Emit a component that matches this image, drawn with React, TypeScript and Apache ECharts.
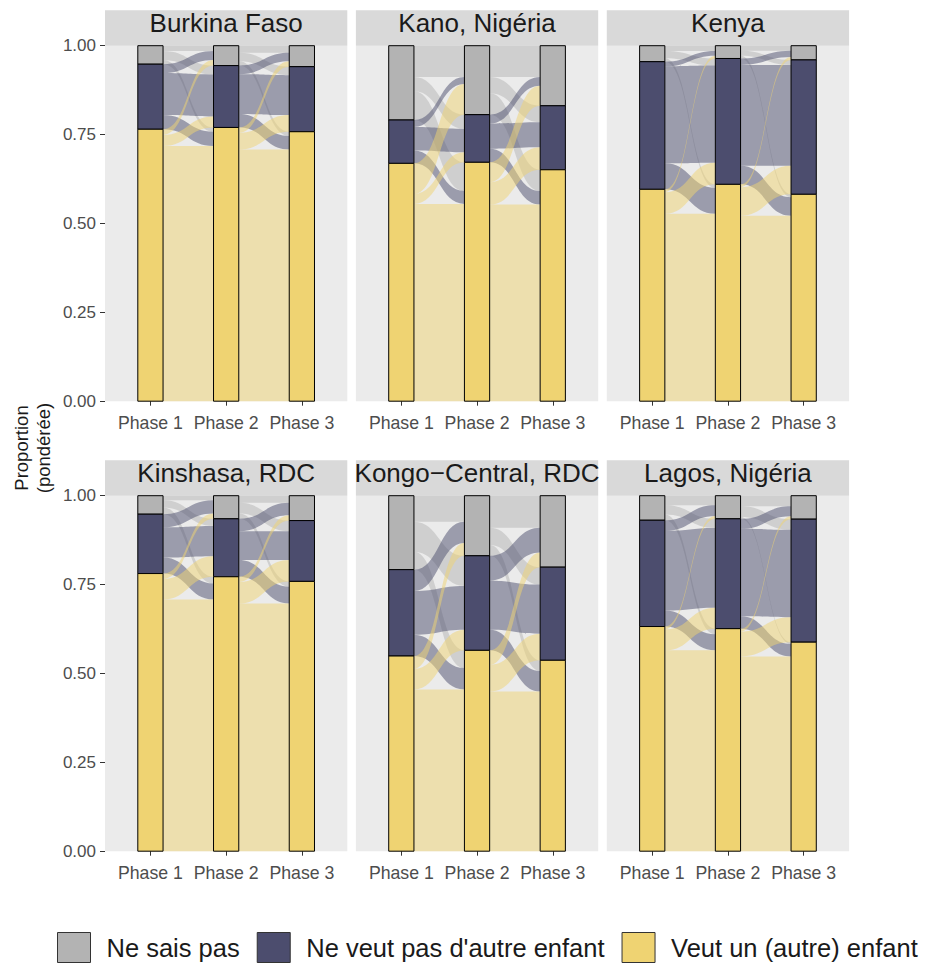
import React, { useEffect, useRef } from 'react';
import * as echarts from 'echarts';

// ---------- data ----------
const CATEGORIES = ['Ne sais pas', "Ne veut pas d'autre enfant", 'Veut un (autre) enfant'];
const PHASES = ['Phase 1', 'Phase 2', 'Phase 3'];
const PHASE_POS = [1, 2, 3];
const REGIONS = ['Burkina Faso', 'Kano, Nigéria', 'Kenya', 'Kinshasa, RDC', 'Kongo\u2212Central, RDC', 'Lagos, Nigéria'];
const Y_TICKS = [0, 0.25, 0.5, 0.75, 1];

// weighted shares moving from a category at one phase (rows) to a category at the next phase (columns)
// order of rows / columns: Ne sais pas, Ne veut pas d'autre enfant, Veut un (autre) enfant
const BURKINA_1_2 = [[0.015, 0.025, 0.012], [0.025, 0.118, 0.040], [0.016, 0.031, 0.718]];
const BURKINA_2_3 = [[0.020, 0.024, 0.012], [0.024, 0.112, 0.038], [0.015, 0.047, 0.708]];
const KANO_1_2 = [[0.088, 0.040, 0.081], [0.020, 0.066, 0.036], [0.086, 0.028, 0.555]];
const KANO_2_3 = [[0.088, 0.046, 0.060], [0.025, 0.071, 0.038], [0.056, 0.063, 0.553]];
const KENYA_1_2 = [[0.015, 0.020, 0.010], [0.013, 0.273, 0.073], [0.008, 0.061, 0.527]];
const KENYA_2_3 = [[0.014, 0.014, 0.008], [0.018, 0.284, 0.052], [0.008, 0.080, 0.522]];
const KINSHASA_1_2 = [[0.013, 0.020, 0.019], [0.037, 0.085, 0.045], [0.015, 0.058, 0.708]];
const KINSHASA_2_3 = [[0.020, 0.030, 0.015], [0.035, 0.081, 0.047], [0.015, 0.060, 0.697]];
const KONGO_1_2 = [[0.073, 0.085, 0.050], [0.060, 0.123, 0.060], [0.036, 0.058, 0.455]];
const KONGO_2_3 = [[0.090, 0.049, 0.030], [0.070, 0.138, 0.058], [0.041, 0.075, 0.449]];
const LAGOS_1_2 = [[0.027, 0.026, 0.016], [0.030, 0.224, 0.045], [0.008, 0.059, 0.565]];
const LAGOS_2_3 = [[0.030, 0.030, 0.005], [0.028, 0.246, 0.035], [0.008, 0.070, 0.548]];

const TRANSITIONS = [
  [BURKINA_1_2, BURKINA_2_3],
  [KANO_1_2, KANO_2_3],
  [KENYA_1_2, KENYA_2_3],
  [KINSHASA_1_2, KINSHASA_2_3],
  [KONGO_1_2, KONGO_2_3],
  [LAGOS_1_2, LAGOS_2_3],
];

// ---------- styles / layout ----------
const COLORS = ['#B3B3B3', '#4C4D6E', '#EFD372'];
const FLOW_COLORS = ['rgba(179,179,179,0.5)', 'rgba(76,77,110,0.5)', 'rgba(239,211,114,0.5)'];
const FONT = "'Liberation Sans', Arial, Helvetica, sans-serif";
const PANEL_LEFT = [105, 355.9, 606.8];
const PANEL_W = 242.3;
const PANEL_TOP = [45.7, 495.7];
const PANEL_H = 355.5;
const STRIP_H = 35.5;
const STRATUM_W = 1 / 3;

const rowSums = (m: number[][]) => m.map((r) => r.reduce((a, b) => a + b, 0));
const colSums = (m: number[][]) => m[0].map((_, j) => m.reduce((a, r) => a + r[j], 0));

function tops(shares: number[]) {
  const t: number[] = [];
  let acc = 1;
  shares.forEach((s) => {
    t.push(acc);
    acc -= s;
  });
  return t;
}

function buildPanel(trans: number[][][]) {
  const marg = [rowSums(trans[0]), colSums(trans[0]), colSums(trans[1])];
  const strata: number[][][] = [[], [], []];
  marg.forEach((shares, a) => {
    const t = tops(shares);
    shares.forEach((s, k) => strata[k].push([PHASE_POS[a], t[k] - s, t[k], k]));
  });
  const flows: number[][] = [];
  trans.forEach((m, a) => {
    const left = tops(marg[a]);
    const right = tops(marg[a + 1]);
    for (let i = 0; i < 3; i++) {
      for (let j = 0; j < 3; j++) {
        const v = m[i][j];
        let lt = left[i];
        for (let q = 0; q < j; q++) lt -= m[i][q];
        let rt = right[j];
        for (let q = 0; q < i; q++) rt -= m[q][j];
        flows.push([PHASE_POS[a] + STRATUM_W / 2, lt, lt - v, PHASE_POS[a + 1] - STRATUM_W / 2, rt, rt - v, i]);
      }
    }
  });
  return { strata, flows };
}

function renderFlow(_params: any, api: any) {
  const x0 = api.value(0), t0 = api.value(1), b0 = api.value(2);
  const x1 = api.value(3), t1 = api.value(4), b1 = api.value(5);
  const k = api.value(6);
  const a = api.coord([x0, t0]);
  const b = api.coord([x1, t1]);
  const c = api.coord([x1, b1]);
  const d = api.coord([x0, b0]);
  const h = (b[0] - a[0]) * 0.5;
  const pathData =
    `M${a[0]},${a[1]} C${a[0] + h},${a[1]} ${b[0] - h},${b[1]} ${b[0]},${b[1]} ` +
    `L${c[0]},${c[1]} C${c[0] - h},${c[1]} ${d[0] + h},${d[1]} ${d[0]},${d[1]} Z`;
  return { type: 'path', shape: { pathData }, style: { fill: FLOW_COLORS[k] } };
}

function renderStratum(_params: any, api: any) {
  const x = api.value(0), bot = api.value(1), top = api.value(2), k = api.value(3);
  const p1 = api.coord([x - STRATUM_W / 2, top]);
  const p2 = api.coord([x + STRATUM_W / 2, bot]);
  return {
    type: 'rect',
    shape: { x: p1[0], y: p1[1], width: p2[0] - p1[0], height: p2[1] - p1[1] },
    style: { fill: COLORS[k], stroke: '#000', lineWidth: 1 },
  };
}

function buildOption() {
  const grid: any[] = [];
  const xAxis: any[] = [];
  const yAxis: any[] = [];
  const series: any[] = [];
  const graphic: any[] = [];

  REGIONS.forEach((region, p) => {
    const row = Math.floor(p / 3);
    const col = p % 3;
    grid.push({
      left: PANEL_LEFT[col], top: PANEL_TOP[row], width: PANEL_W, height: PANEL_H,
      show: true, backgroundColor: '#EBEBEB', borderWidth: 0,
    });
    xAxis.push({
      gridIndex: p, type: 'value', min: 0.4, max: 3.6,
      axisLine: { show: false }, splitLine: { show: false },
      axisTick: { show: true, customValues: PHASE_POS, length: 4.5, lineStyle: { color: '#333333', width: 1 } },
      axisLabel: {
        customValues: PHASE_POS,
        formatter: (v: number) => PHASES[Math.round(v) - 1] ?? '',
        color: '#4D4D4D', fontSize: 17.7, margin: 12.5, fontFamily: FONT,
      },
    });
    yAxis.push({
      gridIndex: p, type: 'value', min: 0, max: 1,
      axisLine: { show: false }, splitLine: { show: false },
      axisTick: { show: col === 0, customValues: Y_TICKS, length: 5, lineStyle: { color: '#333333', width: 1 } },
      axisLabel: {
        show: col === 0, customValues: Y_TICKS,
        formatter: (v: number) => v.toFixed(2),
        color: '#4D4D4D', fontSize: 17, margin: 9, fontFamily: FONT,
      },
    });
    const { strata, flows } = buildPanel(TRANSITIONS[p]);
    series.push({
      type: 'custom', name: 'flux', xAxisIndex: p, yAxisIndex: p,
      renderItem: renderFlow, data: flows, silent: true, z: 1,
    });
    strata.forEach((d, k) => {
      series.push({
        type: 'custom', name: CATEGORIES[k], xAxisIndex: p, yAxisIndex: p,
        renderItem: renderStratum, data: d, silent: true, z: 2,
        itemStyle: { color: COLORS[k] },
      });
    });
    const sx = PANEL_LEFT[col];
    const sy = PANEL_TOP[row] - STRIP_H;
    graphic.push({
      type: 'rect', shape: { x: sx, y: sy, width: PANEL_W, height: STRIP_H },
      style: { fill: '#D9D9D9' }, silent: true,
    });
    graphic.push({
      type: 'text', x: sx + PANEL_W / 2, y: sy + STRIP_H / 2 - 4.5,
      style: {
        text: region, fill: '#1A1A1A', fontSize: 26, fontFamily: FONT,
        align: 'center', verticalAlign: 'middle', textAlign: 'center', textVerticalAlign: 'middle',
      },
      silent: true,
    });
  });

  graphic.push({
    type: 'text', x: 32, y: 448, rotation: Math.PI / 2,
    style: {
      text: 'Proportion\n(pondérée)', fill: '#1A1A1A', fontSize: 18.5, fontFamily: FONT, lineHeight: 22,
      align: 'center', verticalAlign: 'middle', textAlign: 'center', textVerticalAlign: 'middle',
    },
    silent: true,
  });

  return {
    animation: false,
    backgroundColor: '#FFFFFF',
    grid, xAxis, yAxis, series, graphic,
    legend: {
      left: 57, top: 932, width: 1000, padding: 0,
      itemWidth: 33, itemHeight: 30, itemGap: 17,
      selectedMode: false,
      textStyle: { fontSize: 25.5, color: '#1A1A1A', fontFamily: FONT, padding: [0, 0, 0, 11] },
      data: CATEGORIES.map((name, k) => ({
        name, icon: 'rect',
        itemStyle: { color: COLORS[k], borderColor: '#333333', borderWidth: 1 },
      })),
    },
  };
}

export default function App() {
  const ref = useRef<HTMLDivElement>(null);
  useEffect(() => {
    document.body.style.margin = '0';
    if (!ref.current) return;
    const chart = echarts.init(ref.current, undefined, { renderer: 'svg' });
    chart.setOption(buildOption() as any);
    return () => chart.dispose();
  }, []);
  return <div ref={ref} style={{ width: 926, height: 965 }} />;
}
